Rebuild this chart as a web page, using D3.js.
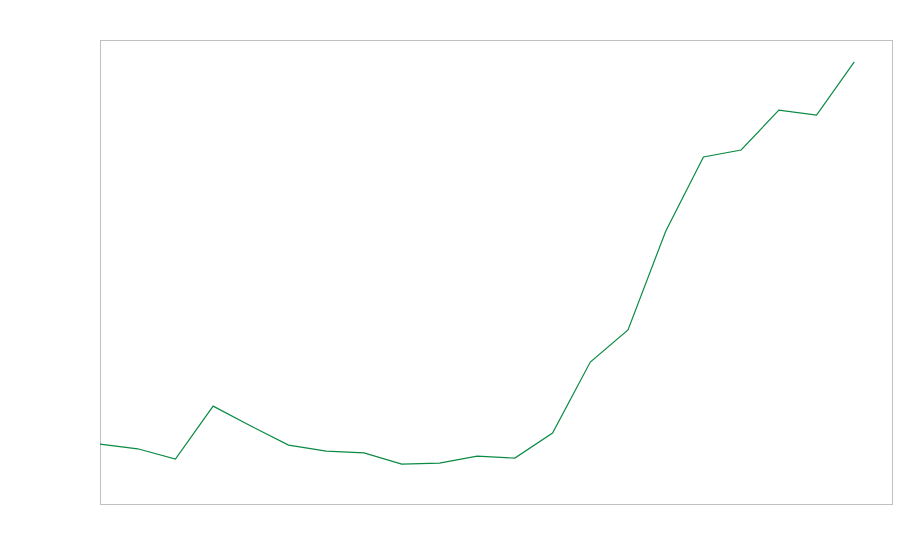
<!DOCTYPE html>
<html>
<head>
    <script src="https://d3js.org/d3.v7.min.js"></script>
    <style>
        body { margin: 0; background: #fff; }
        .frame { fill: none; stroke: #c0c0c0; stroke-width: 1; }
        .line { fill: none; stroke: #0b8a43; stroke-width: 1.2; }
    </style>
</head>
<body>
    <div id="chart"></div>
    <script>
        // categories (no labels shown in the chart) and the series values
        var categories = d3.range(0, 21);
        var values = [12.9, 11.9, 9.7, 21.1, 16.8, 12.7, 11.4, 11.0, 8.6, 8.8, 10.3,
                      9.9, 15.3, 30.6, 37.5, 58.8, 74.8, 76.3, 84.9, 83.8, 95.3];
        var yDomain = [0, 100];

        var width = 900, height = 560;
        var margin = {top: 40, right: 8, bottom: 56, left: 100};
        var w = width - margin.left - margin.right,
            h = height - margin.top - margin.bottom;

        var svg = d3.select("#chart").append("svg")
            .attr("width", width)
            .attr("height", height);

        var g = svg.append("g")
            .attr("transform", "translate(" + margin.left + "," + margin.top + ")");

        var x = d3.scaleLinear()
            .domain([0, categories.length])
            .range([0, w]);

        var y = d3.scaleLinear()
            .domain(yDomain)
            .range([h, 0]);

        g.append("rect")
            .attr("class", "frame")
            .attr("x", 0.5)
            .attr("y", 0.5)
            .attr("width", w)
            .attr("height", h);

        var line = d3.line()
            .x(function(d, i) { return x(categories[i]); })
            .y(function(d) { return y(d); });

        g.append("path")
            .datum(values)
            .attr("class", "line")
            .attr("d", line);
    </script>
</body>
</html>
